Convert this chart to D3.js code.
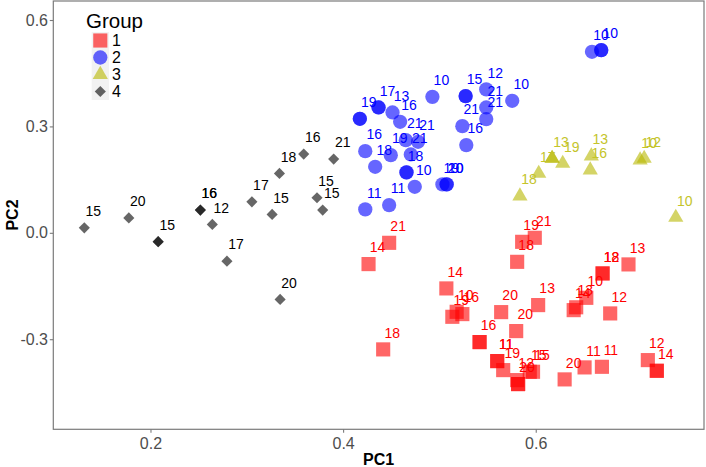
<!DOCTYPE html>
<html><head><meta charset="utf-8">
<script src="https://cdn.jsdelivr.net/npm/d3@7"></script>
<style>body{margin:0;background:#fff}svg{display:block}</style>
</head><body>
<script>
// ---- data (PC1, PC2, label) ----
const groups = ["1", "2", "3", "4"];
const g1PC1 = [0.4478,0.4264,0.5072,0.5134,0.5179,0.5238,0.4416,0.5641,0.6025,0.5797,0.5417,0.5417,0.5600,0.5600,0.5662,0.5807,0.5817,0.5817,0.5938,0.5972,0.5859,0.5990,0.5807,0.6963,0.6694,0.6694,0.6525,0.6394,0.6420,0.6773,0.6300,0.6507,0.6687,0.7164,0.7257,0.7257];
const g1PC2 = [-0.0282,-0.0882,-0.1568,-0.2368,-0.2227,-0.2292,-0.3287,-0.2236,-0.2038,-0.2771,-0.3081,-0.3081,-0.3617,-0.3617,-0.3871,-0.4153,-0.4265,-0.4265,-0.3918,-0.3918,-0.0254,-0.0141,-0.0818,-0.0891,-0.1145,-0.1145,-0.1833,-0.2180,-0.2100,-0.2273,-0.4133,-0.3795,-0.3778,-0.3589,-0.3890,-0.3890];
const g1Lab = ["21","14","14","19","10","16","18","20","13","20","16","","11","11","19","12","20","","15","15","19","21","18","13","18","12","10","14","13","12","20","11","11","12","14",""];

const g2PC1 = [0.4174,0.4174,0.4368,0.4368,0.4513,0.4592,0.4927,0.5272,0.5272,0.5486,0.5486,0.5486,0.5756,0.5238,0.5279,0.4230,0.4333,0.4495,0.4651,0.4778,0.4703,0.4658,0.4658,0.4744,0.4230,0.4478,0.5031,0.5075,0.5075,0.6584,0.6680,0.6680];
const g2PC2 = [0.3214,0.3214,0.3535,0.3535,0.3394,0.3130,0.3834,0.3854,0.3854,0.4043,0.3535,0.3206,0.3722,0.3008,0.2473,0.2303,0.1861,0.2190,0.2613,0.2566,0.2210,0.1703,0.1703,0.1297,0.0660,0.0781,0.1365,0.1365,0.1365,0.5103,0.5151,0.5151];
const g2Lab = ["19","","17","","13","16","10","15","","12","21","21","10","21","16","16","18","19","21","21","21","18","","10","11","11","19","20","10","10","10",""];

const g3PC1 = [0.5836,0.6031,0.6170,0.6170,0.6280,0.6577,0.6566,0.7084,0.7126,0.7454];
const g3PC2 = [0.1035,0.1675,0.2097,0.2097,0.1956,0.2162,0.1768,0.2050,0.2097,0.0434];
const g3Lab = ["18","17","13","","19","13","16","10","12","10"];

const g4PC1 = [0.1313,0.1775,0.2080,0.2080,0.2518,0.2518,0.2642,0.2794,0.3053,0.3339,0.3591,0.3263,0.3729,0.3788,0.3902,0.3346];
const g4PC2 = [0.0140,0.0420,-0.0250,-0.0250,0.0640,0.0640,0.0237,-0.0800,0.0874,0.1675,0.2220,0.0519,0.0987,0.0640,0.2078,-0.1878];
const g4Lab = ["15","20","15","","16","16","12","17","17","18","16","15","15","15","21","20"];

const xTicks = [0.2, 0.4, 0.6];
const yTicks = [-0.3, 0.0, 0.3, 0.6];
const xTitle = "PC1", yTitle = "PC2", legendTitle = "Group";

// ---- styling ----
const W = 706, H = 467;
const M = {left: 53.3, right: 2, top: 1, bottom: 37.7};
const pointFill = {"1": "#ff0000", "2": "#0000ff", "3": "#b8b800", "4": "#000000"};
const textFill  = {"1": "#ff0000", "2": "#0000ff", "3": "#c4c42a", "4": "#000000"};
const symType = {"1": d3.symbolSquare, "2": d3.symbolCircle, "3": d3.symbolTriangle, "4": d3.symbolSquare};
const symSize = {"1": 200, "2": 160, "3": 100, "4": 62};
const symRot  = {"1": 0, "2": 0, "3": 0, "4": 45};
const ALPHA = 0.6;
const FONT = "'Liberation Sans', Arial, sans-serif";

const data = [];
[[g1PC1,g1PC2,g1Lab,"1"],[g2PC1,g2PC2,g2Lab,"2"],[g3PC1,g3PC2,g3Lab,"3"],[g4PC1,g4PC2,g4Lab,"4"]]
  .forEach(([xs, ys, ls, g]) => xs.forEach((x, i) => data.push({pc1: x, pc2: ys[i], label: ls[i], group: g})));

const x = d3.scaleLinear().domain([0.0991, 0.7747]).range([M.left, W - M.right]);
const y = d3.scaleLinear().domain([-0.554, 0.6536]).range([H - M.bottom, M.top]);

const svg = d3.select("body").append("svg").attr("width", W).attr("height", H)
  .style("font-family", FONT);

// axes
const xAxis = svg.append("g").attr("transform", `translate(0,${H - M.bottom})`)
  .call(d3.axisBottom(x).tickValues(xTicks).tickFormat(d => d.toFixed(1)).tickSize(3.5).tickPadding(4.8));
const yAxis = svg.append("g").attr("transform", `translate(${M.left},0)`)
  .call(d3.axisLeft(y).tickValues(yTicks).tickFormat(d => d.toFixed(1)).tickSize(3.5).tickPadding(1.8));
[xAxis, yAxis].forEach(a => {
  a.select(".domain").remove();
  a.selectAll(".tick line").attr("stroke", "#7a7a7a").attr("stroke-width", 1.1);
  a.selectAll(".tick text").attr("fill", "#4d4d4d").style("font-size", "16px").style("font-family", FONT);
});

// panel border
svg.append("rect").attr("x", M.left).attr("y", M.top)
  .attr("width", W - M.right - M.left).attr("height", H - M.bottom - M.top)
  .attr("fill", "none").attr("stroke", "#7a7a7a").attr("stroke-width", 1.2);

// points
const sym = g => d3.symbol().type(symType[g]).size(symSize[g]);
svg.append("g").selectAll("path").data(data).join("path")
  .attr("d", d => sym(d.group)())
  .attr("transform", d => `translate(${x(d.pc1)},${y(d.pc2)}) rotate(${symRot[d.group]})`)
  .attr("fill", d => pointFill[d.group]).attr("fill-opacity", ALPHA);

// labels
svg.append("g").selectAll("text").data(data.filter(d => d.label !== "")).join("text")
  .attr("x", d => x(d.pc1) + 9).attr("y", d => y(d.pc2) - 11.8)
  .attr("text-anchor", "middle").style("font-size", "14px")
  .attr("fill", d => textFill[d.group]).text(d => d.label);

// axis titles
svg.append("text").attr("x", (M.left + W - M.right) / 2).attr("y", 464.5)
  .attr("text-anchor", "middle").style("font-size", "16px").style("font-weight", "bold").text(xTitle);
svg.append("text").attr("transform", `translate(18,215) rotate(-90)`)
  .attr("text-anchor", "middle").style("font-size", "16px").style("font-weight", "bold").text(yTitle);

// legend
const lg = svg.append("g");
lg.append("text").attr("x", 86).attr("y", 28).style("font-size", "20.5px").text(legendTitle);
groups.forEach((g, i) => {
  const cy = 40.5 + i * 17;
  lg.append("rect").attr("x", 91.7).attr("y", cy - 8.5).attr("width", 17.3).attr("height", 17).attr("fill", "#f2f2f2");
  lg.append("path").attr("d", sym(g)())
    .attr("transform", `translate(100.3,${cy}) rotate(${symRot[g]})`)
    .attr("fill", pointFill[g]).attr("fill-opacity", ALPHA);
  lg.append("text").attr("x", 112).attr("y", cy + 5.8).style("font-size", "16px").text(g);
});
</script>
</body></html>
